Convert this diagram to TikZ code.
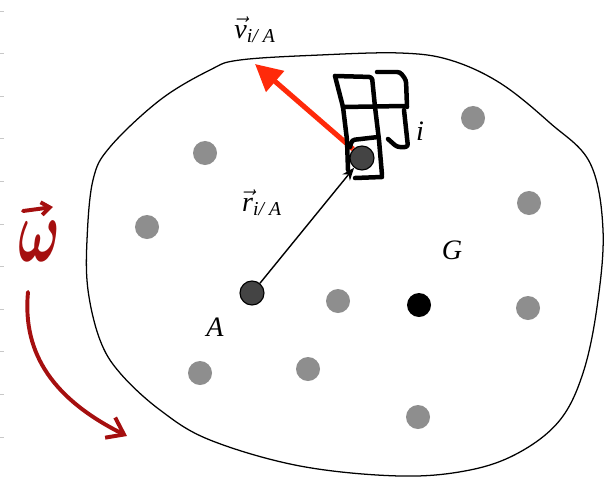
\documentclass[tikz,border=0pt]{standalone}
\usepackage{amsmath}
\usepackage{bm}
\usepackage{fontspec}
\setmainfont{Liberation Serif}
\usetikzlibrary{arrows.meta}
\definecolor{graingrey}{HTML}{8E8E8E}
\definecolor{pointgrey}{HTML}{444444}
\definecolor{velred}{HTML}{FF2A0A}
\definecolor{spinred}{HTML}{A50F0F}
\definecolor{tickgrey}{HTML}{C8C8C8}
\begin{document}
\begin{tikzpicture}[x=0.025cm, y=-0.025cm, every node/.style={font=\fontsize{20}{24}\selectfont},
  grain/.style={circle, fill=graingrey, minimum size=0.6cm, inner sep=0pt},
  point/.style={circle, draw=black, line width=0.8pt, fill=pointgrey, minimum size=0.6cm, inner sep=0pt},
  scribble/.style={line width=3.2pt, line cap=round, line join=round, rounded corners=2pt},
  spin/.style={spinred, line width=2.8pt, line cap=round}]
  \useasboundingbox (0,0) rectangle (616,479);
  % ruler ticks on the left edge
  \foreach \k in {0,...,10}
    \draw[tickgrey, line width=0.6pt] (0,{11+42.6*\k}) -- (4,{11+42.6*\k});
  % body outline
  \draw[line width=0.9pt] plot[smooth cycle, tension=0.6] coordinates {
    (240,60) (320,55) (400,53) (450,60) (500,83) (550,123) (590,163)
    (603,230) (597,307) (583,373) (560,420) (520,452) (470,470) (400,476)
    (300,466) (210,440) (160,410) (120,373) (100,340) (88,290) (87,240)
    (93,180) (110,147) (160,100) (210,70)};
  % particles
  \foreach \x/\y in {205/153, 147/227, 473/118, 529/203, 338/301,
                     528/308, 200/373, 308/369, 418/417}
    \node[grain] at (\x,\y) {};
  \node[point] (A) at (252,293) {};
  \node[point] (i) at (362,158) {};
  \node[circle, fill=black, minimum size=0.6cm, inner sep=0pt] (G) at (419,305) {};
  \coordinate (vtip) at (255,64);
  \draw[line width=1pt, -{Stealth[length=9pt, width=7pt]}] (A) -- (i);
  \draw[velred, line width=3.6pt, -{Triangle[length=19pt, width=19pt]}] (i.north west) -- (vtip);
  % labels
  \node at (452,250) {\textit{G}};
  \node at (215,327) {\textit{A}};
  \node at (420,131) {\textit{i}};
  \node at (262,203) {$\vec{\textit{r}}_{\textit{i/ A}}$};
  \node at (255,30) {$\vec{\textit{v}}_{\textit{i/ A}}$};
  % hand-drawn boxes round i
  \draw[scribble] (335,76) -- (343,107) -- (347,140) -- (348,170);
  \draw[scribble] (335,76) -- (372,77) -- (375,107) -- (379,140) -- (382,175);
  \draw[scribble] (377,72) -- (400,72) -- (406,80) -- (407,107);
  \draw[scribble] (343,107) -- (404,106);
  \draw[scribble] (404,110) -- (408,147) -- (397,147) -- (388,139);
  \draw[scribble] (350,147) -- (352,140) -- (378,137);
  \draw[scribble] (355,178) -- (382,177);
  % angular velocity
  \node[text=spinred, inner sep=0pt] (omega) at (39,241) {\scalebox{1.9}[3.1]{$\bm{\omega}$}};
  \coordinate (omegaL) at (23,211);
  \coordinate (omegaR) at (53,207);
  \draw[spin, -{Straight Barb[length=6pt, width=9pt, line width=2.8pt]}] (omegaL) -- (omegaR);
  \coordinate (spinA) at (28,292);
  \coordinate (spinB) at (127,436);
  \draw[spin, -{Straight Barb[length=11pt, width=16pt, line width=2.8pt]}]
    (spinA) .. controls (22,355) and (55,400) .. (spinB);
\end{tikzpicture}
\end{document}
